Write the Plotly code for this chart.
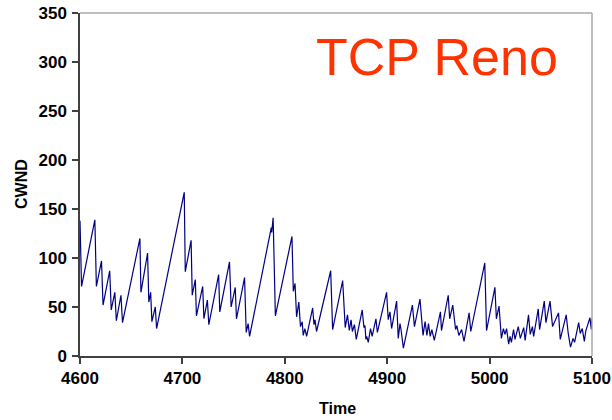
import plotly.graph_objects as go

# Congestion window trace (time, cwnd) for TCP Reno
time = [
    4600, 4601.5, 4614.5, 4616, 4621, 4622.5, 4629, 4630.5, 4634, 4635.5,
    4640, 4641.5, 4658.5, 4659.5, 4666, 4667.2, 4669, 4670.2, 4673.5, 4674.8,
    4701.8, 4702.8, 4708.5, 4709.6, 4712.6, 4713.7, 4719.8, 4721, 4724.4, 4725.8,
    4735.4, 4736.5, 4746, 4747.6, 4751.6, 4752.8, 4760.7, 4762.3, 4764.2, 4765.6,
    4786.8, 4787.2, 4788.6, 4790.8, 4807, 4808.3, 4810, 4811.5, 4813.7, 4815.3,
    4817, 4818, 4819.6, 4821.3, 4827.2, 4828.5, 4829.5, 4831, 4844.8, 4846.7,
    4856.5, 4857.8, 4859, 4861.2, 4863, 4864.7, 4866, 4868, 4869.8, 4875.6,
    4877.3, 4878.3, 4879.2, 4880, 4881.5, 4883.7, 4885.3, 4889, 4890.4, 4899.4,
    4901, 4902.7, 4904.3, 4909.2, 4910.8, 4912.5, 4913.5, 4915.8, 4924.6, 4926.6,
    4932, 4935, 4937, 4938.8, 4940.3, 4942, 4943.6, 4946, 4952, 4953,
    4959.6, 4961, 4964, 4966.8, 4968, 4970, 4972.7, 4975, 4980, 4981.6,
    4995.3, 4997, 5005.2, 5006.6, 5009.2, 5011.5, 5013.5, 5015, 5016.6, 5018.6,
    5020, 5021.3, 5023.4, 5024.8, 5028, 5030, 5033.3, 5034.7, 5038, 5039.7,
    5041.8, 5043, 5047.5, 5048.8, 5053.4, 5055, 5059, 5061.5, 5067.3, 5069,
    5074.8, 5076.8, 5079, 5081.5, 5083, 5087, 5088.5, 5090.5, 5092.5, 5094,
    5098, 5099.3, 5100,
]
cwnd = [
    138, 71, 139, 71, 97, 52, 87, 47, 65, 36,
    62, 34, 120, 65, 105, 55, 65, 35, 50, 28,
    167, 86, 118, 62, 78, 41, 71, 38, 57, 32,
    83, 45, 96, 50, 70, 38, 80, 24, 33, 20,
    131, 126, 141, 41, 122, 66, 74, 40, 55, 30,
    35, 21, 28, 20, 49, 32, 37, 25, 87, 27,
    77, 43, 29, 42, 26, 37, 25, 32, 17, 47,
    29, 31, 17, 20, 14, 28, 20, 38, 24, 65,
    37, 45, 28, 56, 18, 33, 27, 8, 52, 30,
    58, 21, 35, 21, 33, 20, 27, 16, 45, 26,
    62, 38, 52, 27, 31, 21, 27, 15, 44, 25,
    95, 26, 70, 38, 51, 18, 28, 22, 28, 12,
    20, 14, 27, 17, 30, 18, 29, 16, 42, 22,
    30, 20, 48, 27, 56, 34, 56, 30, 44, 17,
    42, 23, 9, 18, 14, 34, 23, 28, 15, 26,
    39, 27, 38,
]

x_ticks = [4600, 4700, 4800, 4900, 5000, 5100]
y_ticks = [0, 50, 100, 150, 200, 250, 300, 350]

FONT = "Liberation Sans, Arial, sans-serif"

fig = go.Figure(
    go.Scatter(
        x=time, y=cwnd, mode="lines",
        line=dict(color="#000080", width=1.2),
        hoverinfo="skip",
    )
)

axis_common = dict(
    showline=True, linecolor="#404040", linewidth=1.5,
    ticks="outside", ticklen=6, tickwidth=1.5, tickcolor="#404040",
    showgrid=False, zeroline=False, automargin=False,
    tickfont=dict(family=FONT, size=17, color="#000000", weight="bold"),
)

fig.update_layout(
    width=612, height=420,
    margin=dict(l=80, r=20, t=13, b=64),
    paper_bgcolor="white", plot_bgcolor="white",
    showlegend=False,
    xaxis=dict(range=[4600, 5100], tickvals=x_ticks, **axis_common),
    yaxis=dict(range=[0, 350], tickvals=y_ticks, ticklabelstandoff=2, **axis_common),
    shapes=[
        dict(type="line", xref="paper", yref="paper", x0=0, x1=1, y0=1, y1=1,
             line=dict(color="#A8A8A8", width=1.5)),
        dict(type="line", xref="paper", yref="paper", x0=1, x1=1, y0=0, y1=1,
             line=dict(color="#A8A8A8", width=1.5)),
    ],
    annotations=[
        dict(text="TCP Reno", xref="paper", yref="paper",
             x=(436.5 - 80) / 512, y=(356 - 57) / 343,
             xanchor="center", yanchor="middle", showarrow=False,
             font=dict(family=FONT, size=52, color="#FF3300")),
        dict(text="CWND", xref="paper", yref="paper",
             x=-(80 - 22) / 512, y=(356 - 184) / 343, textangle=-90,
             xanchor="center", yanchor="middle", showarrow=False,
             font=dict(family=FONT, size=16, color="#000000", weight="bold")),
        dict(text="Time", xref="paper", yref="paper",
             x=(337 - 80) / 512, y=-(408 - 356) / 343,
             xanchor="center", yanchor="middle", showarrow=False,
             font=dict(family=FONT, size=16, color="#000000", weight="bold")),
    ],
)

fig.write_html("out.html")
